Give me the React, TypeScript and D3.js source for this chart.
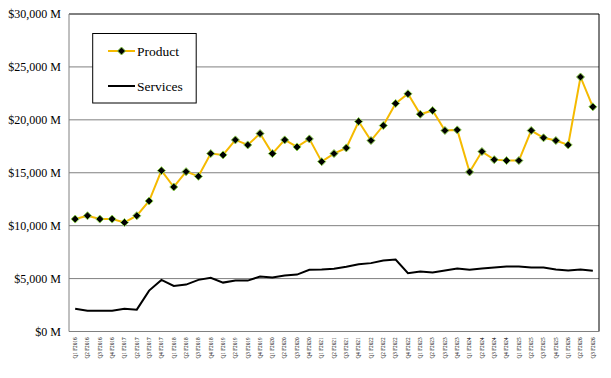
import React from "react";
import * as d3 from "d3";

const years = [2016, 2017, 2018, 2019, 2020, 2021, 2022, 2023, 2024, 2025, 2026];
const categories: string[] = [];
years.forEach((y) => {
  for (let q = 1; q <= 4; q++) {
    if (y === 2026 && q > 3) break;
    categories.push(`Q${q} F${y}`);
  }
});

const product = [
  10625, 10938, 10625, 10625, 10304, 10938, 12330, 15200, 13655, 15105, 14660,
  16810, 16685, 18105, 17630, 18700, 16810, 18105, 17440, 18200, 16050, 16810,
  17350, 19840, 18040, 19460, 21545, 22460, 20530, 20880, 18990, 19050, 15075,
  17000, 16240, 16150, 16150, 18990, 18300, 18040, 17630, 24050, 21230,
];

const services = [
  2160, 1970, 1970, 1970, 2160, 2065, 3865, 4877, 4310, 4435, 4877, 5067, 4620,
  4810, 4810, 5190, 5095, 5285, 5380, 5825, 5850, 5920, 6110, 6360, 6460, 6705,
  6800, 5510, 5665, 5570, 5760, 5950, 5825, 5950, 6040, 6135, 6135, 6040, 6040,
  5850, 5760, 5850, 5730,
];

const yTicks = [0, 5000, 10000, 15000, 20000, 25000, 30000];

const W = 611;
const H = 378;
const L = 69;
const R = 599;
const T = 14;
const B = 331.5;

const FONT = "Liberation Serif, DejaVu Serif, serif";

export default function App() {
  const x = d3.scaleBand<string>().domain(categories).range([L, R]);
  const y = d3.scaleLinear().domain([0, 30000]).range([B, T]);
  const cx = (c: string) => (x(c) as number) + x.bandwidth() / 2;
  const line = d3
    .line<number>()
    .x((_, i) => cx(categories[i]))
    .y((d) => y(d));
  const fmt = d3.format(",");
  const r = 4;
  const diamond = `M0,${-r}L${r},0L0,${r}L${-r},0Z`;

  return (
    <svg
      width={W}
      height={H}
      style={{ position: "absolute", left: 0, top: 0, background: "#fff", fontFamily: FONT }}
    >
      {yTicks.map((t) => (
        <g key={t}>
          {t > 0 && t < 30000 && (
            <line x1={L} x2={R} y1={y(t)} y2={y(t)} stroke="#808080" strokeWidth={1} />
          )}
          <text
            x={L - 8}
            y={y(t)}
            dy="0.35em"
            textAnchor="end"
            style={{ fontFamily: FONT, fontSize: 12 }}
            fill="#000"
          >
            {`$${fmt(t)} M`}
          </text>
        </g>
      ))}
      <line x1={L} x2={R} y1={T} y2={T} stroke="#000" strokeWidth={1} />
      <line x1={R} x2={R} y1={T} y2={B} stroke="#000" strokeWidth={1} />
      <line x1={L} x2={L} y1={T} y2={B} stroke="#808080" strokeWidth={1} />
      <line x1={L} x2={R} y1={B} y2={B} stroke="#808080" strokeWidth={1} />

      {categories.map((c) => (
        <text
          key={c}
          transform={`translate(${cx(c) + 1.8},${B + 6}) rotate(-90)`}
          textAnchor="end"
          style={{ fontFamily: FONT, fontSize: 5.2 }}
          fill="#000"
        >
          {c}
        </text>
      ))}

      <path d={line(services) || ""} fill="none" stroke="#000" strokeWidth={2} />
      <path d={line(product) || ""} fill="none" stroke="#F5BA00" strokeWidth={2} />
      {product.map((v, i) => (
        <path
          key={i}
          d={diamond}
          transform={`translate(${cx(categories[i])},${y(v)})`}
          fill="#000"
          stroke="#8fd14f"
          strokeWidth={1}
        />
      ))}

      <g>
        <rect x={92.7} y={33.5} width={103.5} height={69.5} fill="#fff" stroke="#000" strokeWidth={1} />
        <line x1={108} x2={135} y1={51} y2={51} stroke="#F5BA00" strokeWidth={2} />
        <path d={diamond} transform="translate(121.5,51)" fill="#000" stroke="#8fd14f" strokeWidth={1} />
        <text x={137} y={51} dy="0.35em" style={{ fontFamily: FONT, fontSize: 13.5 }} fill="#000">
          Product
        </text>
        <line x1={108} x2={135} y1={86} y2={86} stroke="#000" strokeWidth={2} />
        <text x={137} y={86} dy="0.35em" style={{ fontFamily: FONT, fontSize: 13.5 }} fill="#000">
          Services
        </text>
      </g>
    </svg>
  );
}
